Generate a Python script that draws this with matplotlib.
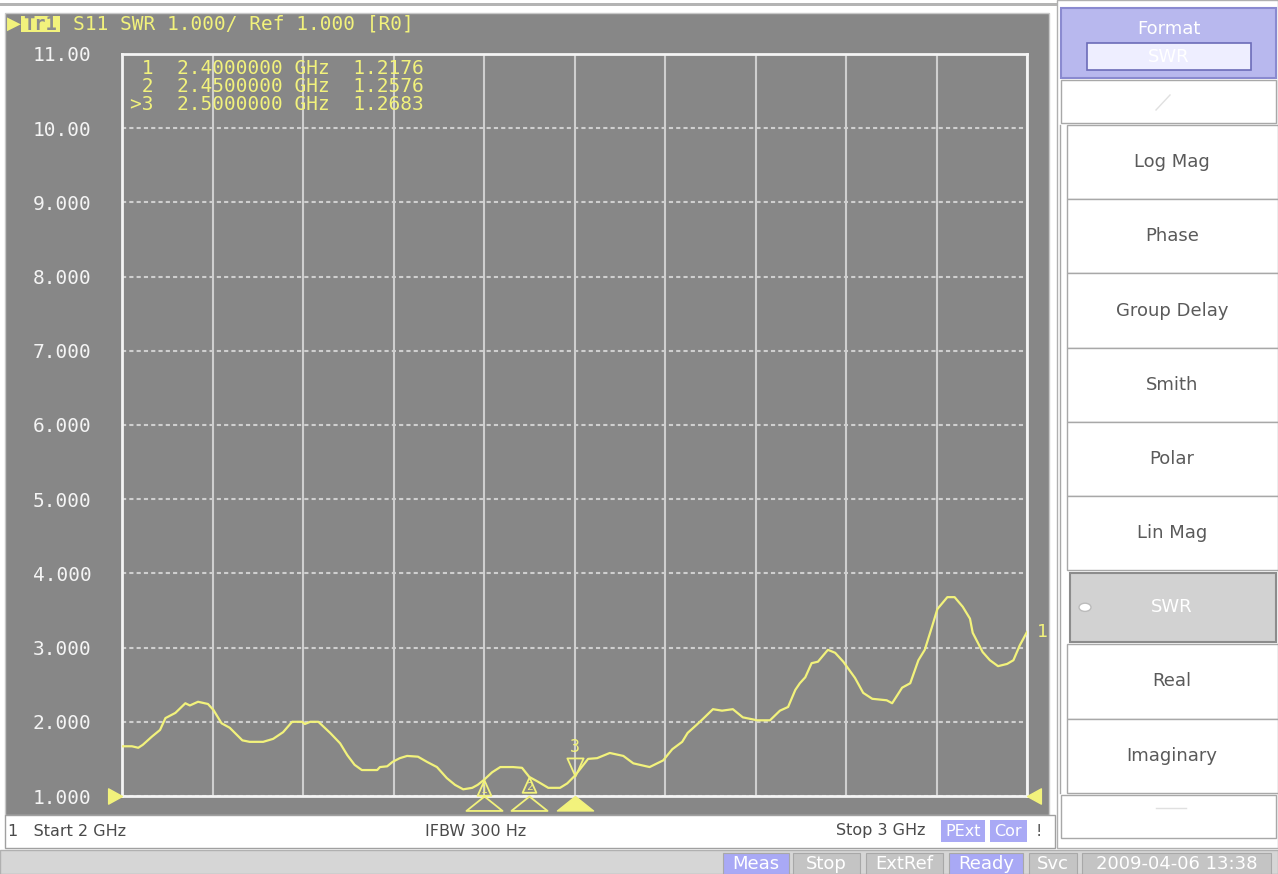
import matplotlib
matplotlib.use("Agg")
import matplotlib.pyplot as plt
from matplotlib.patches import Rectangle, Circle
from matplotlib.path import Path

# S11 SWR trace, 2-3 GHz
freq = [2.000, 2.011, 2.018, 2.023, 2.033, 2.042, 2.048, 2.059, 2.070, 2.075,
        2.084, 2.095, 2.101, 2.110, 2.119, 2.133, 2.141, 2.156, 2.167, 2.178,
        2.188, 2.199, 2.202, 2.208, 2.217, 2.230, 2.241, 2.249, 2.257, 2.265,
        2.282, 2.285, 2.293, 2.299, 2.307, 2.315, 2.327, 2.337, 2.348, 2.359,
        2.368, 2.377, 2.387, 2.393, 2.400, 2.409, 2.418, 2.432, 2.442, 2.450,
        2.460, 2.471, 2.484, 2.492, 2.500, 2.506, 2.515, 2.525, 2.539, 2.554,
        2.565, 2.583, 2.598, 2.608, 2.619, 2.625, 2.635, 2.642, 2.653, 2.663,
        2.675, 2.686, 2.702, 2.716, 2.727, 2.736, 2.744, 2.749, 2.755, 2.762,
        2.769, 2.780, 2.788, 2.797, 2.810, 2.819, 2.829, 2.845, 2.851, 2.862,
        2.871, 2.880, 2.887, 2.895, 2.901, 2.912, 2.920, 2.929, 2.937, 2.940,
        2.951, 2.959, 2.968, 2.978, 2.985, 2.992, 3.000]
swr = [1.67, 1.67, 1.65, 1.69, 1.80, 1.89, 2.05, 2.12, 2.25, 2.22,
       2.27, 2.24, 2.16, 1.98, 1.92, 1.75, 1.73, 1.73, 1.77, 1.86,
       2.00, 2.00, 1.97, 2.00, 2.00, 1.85, 1.71, 1.55, 1.42, 1.35,
       1.35, 1.39, 1.40, 1.46, 1.51, 1.54, 1.53, 1.46, 1.39, 1.24,
       1.15, 1.09, 1.11, 1.15, 1.2176, 1.32, 1.39, 1.39, 1.38, 1.2576,
       1.19, 1.11, 1.11, 1.17, 1.2683, 1.36, 1.50, 1.51, 1.58, 1.54,
       1.44, 1.39, 1.48, 1.63, 1.73, 1.85, 1.96, 2.04, 2.17, 2.15,
       2.17, 2.06, 2.02, 2.02, 2.15, 2.20, 2.43, 2.52, 2.60, 2.79,
       2.81, 2.97, 2.93, 2.81, 2.59, 2.39, 2.31, 2.29, 2.25, 2.46,
       2.52, 2.83, 2.97, 3.28, 3.52, 3.68, 3.68, 3.55, 3.39, 3.20,
       2.94, 2.83, 2.75, 2.78, 2.83, 3.03, 3.21]

marker_ids = [1, 2, 3]
marker_freq = [2.40, 2.45, 2.50]
marker_swr = [1.2176, 1.2576, 1.2683]
active_marker = 3

ytick_vals = [1, 2, 3, 4, 5, 6, 7, 8, 9, 10, 11]
ytick_labels = ["1.000", "2.000", "3.000", "4.000", "5.000", "6.000",
                "7.000", "8.000", "9.000", "10.00", "11.00"]

softkeys = ["Log Mag", "Phase", "Group Delay", "Smith", "Polar",
            "Lin Mag", "SWR", "Real", "Imaginary"]
selected_key = "SWR"

status_items = ["Meas", "Stop", "ExtRef", "Ready", "Svc", "2009-04-06 13:38"]
status_lit = ["Meas", "Ready"]

W, H = 1278, 874
YELLOW = "#f2f27c"
PANEL = "#878787"
GRID = "#cfcfcf"
LAV = "#a9a9f5"
MONO = "DejaVu Sans Mono"
SANS = "DejaVu Sans"

fig = plt.figure(figsize=(W / 100, H / 100), dpi=100)
fig.patch.set_facecolor("white")


def fx(x):
    return x / W


def fy(y):
    return 1 - y / H


def rect(x0, y0, x1, y1, **kw):
    kw.setdefault("zorder", 0)
    r = Rectangle((fx(x0), fy(y1)), (x1 - x0) / W, (y1 - y0) / H,
                  transform=fig.transFigure, **kw)
    fig.patches.append(r)
    return r


def txt(x, y, s, **kw):
    kw.setdefault("va", "center")
    return fig.text(fx(x), fy(y), s, **kw)


# window frame and main grey panel
rect(0, 3, W, 6, facecolor="#b4b4b4", edgecolor="none")
rect(5, 13, 1049, 815, facecolor=PANEL, edgecolor="#c8c8c8", linewidth=1)

# lower info strip
rect(5, 815, 1055, 848, facecolor="white", edgecolor="#a0a0a0", linewidth=1)
txt(8, 831, "1   Start 2 GHz", color="#4a4a4a", fontsize=11.5, family=SANS)
txt(425, 831, "IFBW 300 Hz", color="#4a4a4a", fontsize=11.5, family=SANS)
txt(925, 831, "Stop 3 GHz", color="#4a4a4a", fontsize=11.5, family=SANS, ha="right")
rect(941, 820, 985, 842, facecolor=LAV, edgecolor="none")
txt(963, 831, "PExt", color="white", fontsize=11.5, family=SANS, ha="center")
rect(990, 820, 1027, 842, facecolor=LAV, edgecolor="none")
txt(1008, 831, "Cor", color="white", fontsize=11.5, family=SANS, ha="center")
txt(1039, 831, "!", color="#4a4a4a", fontsize=11.5, family=SANS, ha="center")

# status bar
rect(0, 850, W, H, facecolor="#d6d6d6", edgecolor="#b0b0b0", linewidth=1)
status_x = [(723, 789), (793, 860), (866, 943), (949, 1023), (1029, 1077), (1082, 1271)]
for name, (x0, x1) in zip(status_items, status_x):
    fc = LAV if name in status_lit else "#c4c4c4"
    rect(x0, 853, x1, 874, facecolor=fc, edgecolor="#a8a8a8", linewidth=0.8)
    txt((x0 + x1) / 2, 864, name, color="white", fontsize=13, family=SANS, ha="center")

# softkey panel
rect(1057, 0, W, 848, facecolor="white", edgecolor="#b0b0b0", linewidth=1)
rect(1061, 8, 1276, 78, facecolor="#b8b8ee", edgecolor="#8a8ad0", linewidth=1.5)
txt(1169, 29, "Format", color="white", fontsize=13, family=SANS, ha="center")
rect(1087, 43, 1251, 70, facecolor="#eeeeff", edgecolor="#6c6cb8", linewidth=1.2)
txt(1169, 57, "SWR", color="white", fontsize=13, family=SANS, ha="center")
rect(1061, 80, 1276, 123, facecolor="white", edgecolor="#a8a8a8", linewidth=1)
fig.lines.append(plt.Line2D([fx(1156), fx(1170)], [fy(110), fy(95)],
                            transform=fig.transFigure, color="#e0e0e0", lw=1))
fig.lines.append(plt.Line2D([fx(1060), fx(1060)], [fy(125), fy(793)],
                            transform=fig.transFigure, color="#a8a8a8", lw=1))
key_top, key_h = 125, 74.2
for i, name in enumerate(softkeys):
    y0 = key_top + i * key_h
    y1 = y0 + key_h
    if name == selected_key:
        rect(1070, y0 + 3, 1276, y1 - 2, facecolor="#d2d2d2", edgecolor="#8c8c8c", linewidth=1.5)
        fig.patches.append(Circle((fx(1085), fy((y0 + y1) / 2)), 6 / W,
                                  transform=fig.transFigure, facecolor="white",
                                  edgecolor="#bbbbbb", zorder=0.5))
    else:
        rect(1067, y0, 1278, y1, facecolor="white", edgecolor="#a8a8a8", linewidth=1)
    col = "white" if name == selected_key else "#5a5a5a"
    txt(1172, (y0 + y1) / 2, name, color=col, fontsize=13, family=SANS, ha="center")
rect(1061, 795, 1276, 838, facecolor="white", edgecolor="#a8a8a8", linewidth=1)
fig.lines.append(plt.Line2D([fx(1156), fx(1186)], [fy(808), fy(808)],
                            transform=fig.transFigure, color="#e0e0e0", lw=1))

# channel header
txt(7, 24, "\u25B6", color=YELLOW, fontsize=13, family=SANS)
rect(21, 16, 60, 32, facecolor=YELLOW, edgecolor="none", zorder=1)
txt(40, 24, "Tr1", color="#8c8c8c", fontsize=13.5, family=MONO, ha="center", fontweight="bold")
txt(73, 24, "S11 SWR 1.000/ Ref 1.000 [R0]", color=YELLOW, fontsize=14, family=MONO)

# measurement axes
ax = fig.add_axes([fx(122), fy(796), (1027 - 122) / W, (796 - 54) / H])
ax.set_zorder(1)
ax.set_facecolor("none")
ax.set_xlim(2.0, 3.0)
ax.set_ylim(1.0, 11.0)
ax.set_xticks([2.0 + 0.1 * k for k in range(11)])
ax.set_xticklabels([])
ax.set_yticks(ytick_vals)
ax.set_yticklabels(ytick_labels, family=MONO, fontsize=14, color="#f4f4f4")
ax.tick_params(axis="both", length=0, pad=22)
for s in ax.spines.values():
    s.set_color("#f4f4f4")
    s.set_linewidth(2)
ax.grid(axis="x", color=GRID, lw=1.5)
ax.grid(axis="y", color=GRID, lw=1.5, linestyle=(0, (2, 1.5)))

ax.plot(freq, swr, color=YELLOW, lw=1.6, zorder=3)
ax.annotate("1", (freq[-1], swr[-1]), xytext=(7, 0), textcoords="offset points",
            color=YELLOW, fontsize=13, family=MONO, va="center", annotation_clip=False)

# marker symbols (apex at the point)
tri_up = Path([(0, 0), (-0.45, -1), (0.45, -1), (0, 0)],
              [Path.MOVETO, Path.LINETO, Path.LINETO, Path.CLOSEPOLY])
tri_down = Path([(0, 0), (-0.45, 1), (0.45, 1), (0, 0)],
                [Path.MOVETO, Path.LINETO, Path.LINETO, Path.CLOSEPOLY])
stim = Path([(0, 0), (-0.75, -0.6), (0.75, -0.6), (0, 0)],
            [Path.MOVETO, Path.LINETO, Path.LINETO, Path.CLOSEPOLY])
tri_right = Path([(0, 0), (-1, 0.55), (-1, -0.55), (0, 0)],
                 [Path.MOVETO, Path.LINETO, Path.LINETO, Path.CLOSEPOLY])
tri_left = Path([(0, 0), (1, 0.55), (1, -0.55), (0, 0)],
                [Path.MOVETO, Path.LINETO, Path.LINETO, Path.CLOSEPOLY])

for mid, mf, mv in zip(marker_ids, marker_freq, marker_swr):
    if mid == active_marker:
        ax.plot([mf], [mv], marker=tri_down, ms=26, mfc="none", mec=YELLOW,
                mew=1.3, zorder=4, clip_on=False)
        ax.annotate(str(mid), (mf, mv), xytext=(0, 21), textcoords="offset points",
                    color=YELLOW, fontsize=12, family=MONO, ha="center", va="center")
        ax.plot([mf], [1.0], marker=stim, ms=26, mfc=YELLOW, mec=YELLOW,
                mew=1, zorder=4, clip_on=False)
    else:
        ax.plot([mf], [mv], marker=tri_up, ms=22, mfc="none", mec=YELLOW,
                mew=1.3, zorder=4, clip_on=False)
        ax.annotate(str(mid), (mf, mv), xytext=(0, -7), textcoords="offset points",
                    color=YELLOW, fontsize=8, family=MONO, ha="center", va="center")
        ax.plot([mf], [1.0], marker=stim, ms=26, mfc="none", mec=YELLOW,
                mew=1.3, zorder=4, clip_on=False)

# reference level pointers
ax.plot([2.0], [1.0], marker=tri_right, ms=20, mfc=YELLOW, mec=YELLOW, clip_on=False, zorder=4)
ax.plot([3.0], [1.0], marker=tri_left, ms=20, mfc=YELLOW, mec=YELLOW, clip_on=False, zorder=4)

# marker readout table
rows = [" 1  2.4000000 GHz  1.2176", " 2  2.4500000 GHz  1.2576", ">3  2.5000000 GHz  1.2683"]
for i, (mid, mf, mv) in enumerate(zip(marker_ids, marker_freq, marker_swr)):
    lead = ">" if mid == active_marker else " "
    row = "%s%d  %.7f GHz  %.4f" % (lead, mid, mf, mv)
    txt(130, 69 + 18 * i, row, color=YELLOW, fontsize=14, family=MONO, zorder=5)

fig.savefig("out.png", dpi=100)
